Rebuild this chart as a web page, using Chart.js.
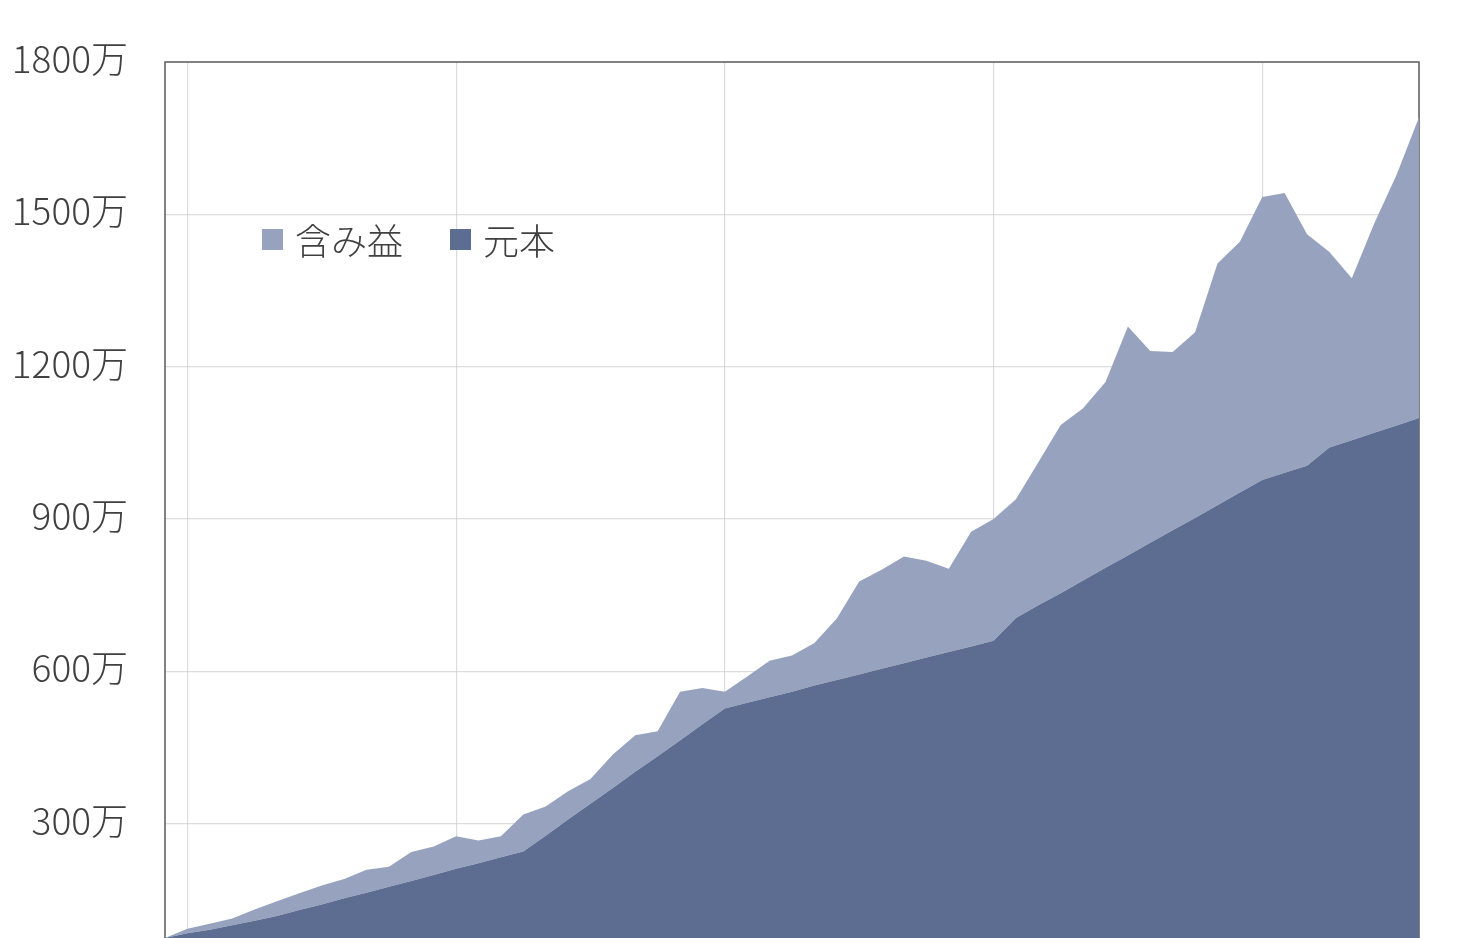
<!DOCTYPE html>
<html>
<head>
    <meta charset="utf-8">
    <title>資産推移</title>
    <script src="https://cdn.jsdelivr.net/npm/chart.js"></script>
    <style>
        html, body { margin: 0; padding: 0; background: #fff; overflow: hidden; }
        #wrap { position: absolute; left: 0; top: 0; width: 1479px; height: 1050px; }
        #legend { position: absolute; left: 262px; top: 213px; display: flex; align-items: center;
                  font-family: 'Noto Sans CJK JP', sans-serif; font-weight: 300; font-size: 36px; color: #404040; }
        .item { display: flex; align-items: center; margin-right: 47px; }
        .box { width: 21px; height: 21px; margin-right: 12px; }
    </style>
</head>
<body>
<div id="wrap">
    <canvas id="myChart"></canvas>
    <!-- 凡例 -->
    <div id="legend">
        <div class="item"><span class="box" style="background:#97A3BE"></span>含み益</div>
        <div class="item"><span class="box" style="background:#5D6D92"></span>元本</div>
    </div>
</div>

<script>
    // 月
    const months = [
        '2019/12',
        '2020/01', '2020/02', '2020/03', '2020/04', '2020/05', '2020/06',
        '2020/07', '2020/08', '2020/09', '2020/10', '2020/11', '2020/12',
        '2021/01', '2021/02', '2021/03', '2021/04', '2021/05', '2021/06',
        '2021/07', '2021/08', '2021/09', '2021/10', '2021/11', '2021/12',
        '2022/01', '2022/02', '2022/03', '2022/04', '2022/05', '2022/06',
        '2022/07', '2022/08', '2022/09', '2022/10', '2022/11', '2022/12',
        '2023/01', '2023/02', '2023/03', '2023/04', '2023/05', '2023/06',
        '2023/07', '2023/08', '2023/09', '2023/10', '2023/11', '2023/12',
        '2024/01', '2024/02', '2024/03', '2024/04', '2024/05', '2024/06',
        '2024/07', '2024/08'
    ];

    // 元本 (万円)
    const gankin = [
        75,
        84, 91, 100, 109, 118, 130, 141, 153, 164, 176, 187, 199,
        211, 222, 234, 245, 276, 308, 339, 370, 402, 433, 464, 496,
        527, 538, 549, 560, 572, 583, 594, 605, 616, 627, 638, 649,
        660, 705, 730, 754, 779, 804, 828, 853, 878, 902, 927, 952,
        977, 991, 1005, 1041, 1055, 1070, 1084, 1099
    ];

    // 含み益 (万円)
    const fukumieki = [
        0,
        9, 12, 13, 22, 29, 33, 37, 38, 45, 39, 57, 56,
        64, 45, 41, 73, 58, 56, 49, 66, 72, 49, 96, 71,
        33, 52, 72, 71, 84, 121, 183, 195, 210, 191, 164, 226,
        240, 234, 282, 331, 339, 366, 451, 378, 351, 366, 476, 494,
        557, 551, 456, 385, 319, 412, 494, 592
    ];

    const yMax = 1800;
    const yStep = 300;

    // 枠線
    const framePlugin = {
        id: 'frame',
        beforeDatasetsDraw(chart) {
            const { ctx, chartArea: a } = chart;
            ctx.save();
            ctx.strokeStyle = '#595959';
            ctx.lineWidth = 1.5;
            ctx.strokeRect(a.left, a.top, a.right - a.left, a.bottom - a.top);
            ctx.restore();
        }
    };

    const gridColor = 'rgba(205,205,205,0.7)';

    const ctx = document.getElementById('myChart').getContext('2d');
    const myChart = new Chart(ctx, {
        type: 'line',
        data: {
            labels: months,
            datasets: [
                {
                    label: '元本',
                    data: gankin,
                    backgroundColor: '#5D6D92',
                    borderColor: 'rgba(0,0,0,0)',
                    fill: 'origin',
                },
                {
                    label: '含み益',
                    data: fukumieki,
                    backgroundColor: '#97A3BE',
                    borderColor: 'rgba(0,0,0,0)',
                    fill: '-1',
                },
            ],
        },
        options: {
            responsive: true,
            maintainAspectRatio: false,
            animation: false,
            elements: {
                point: { radius: 0 },
                line: { tension: 0, borderWidth: 0 },
            },
            layout: {
                padding: { left: 0, right: 60, top: 62, bottom: 14 },
            },
            plugins: {
                legend: { display: false },
                tooltip: { enabled: false },
            },
            scales: {
                x: {
                    z: 1,
                    offset: false,
                    afterBuildTicks: (axis) => {
                        axis.ticks = axis.ticks.filter(t => t.value % 12 === 1);
                    },
                    afterFit: (axis) => { axis.height = 60; },
                    border: { display: false },
                    grid: { color: gridColor, lineWidth: 1.2, drawTicks: false },
                    ticks: {
                        autoSkip: false,
                        maxRotation: 0,
                        color: '#404040',
                        font: { family: "'Noto Sans CJK JP', sans-serif", size: 30, weight: 300 },
                        callback: function (value) {
                            return this.getLabelForValue(value).slice(0, 4) + '年';
                        },
                    },
                },
                y: {
                    z: 1,
                    stacked: true,
                    min: 0,
                    max: yMax,
                    afterFit: (axis) => { axis.width = 165; },
                    border: { display: false },
                    grid: {
                        drawTicks: false,
                        lineWidth: 1.2,
                        color: (c) => (c.tick && c.tick.value === yMax ? 'rgba(0,0,0,0)' : gridColor),
                    },
                    ticks: {
                        stepSize: yStep,
                        padding: 37,
                        labelOffset: -3,
                        color: '#404040',
                        font: { family: "'Noto Sans CJK JP', sans-serif", size: 37, weight: 300 },
                        callback: (value) => value + '万',
                    },
                },
            },
        },
        plugins: [framePlugin],
    });
</script>
</body>
</html>
